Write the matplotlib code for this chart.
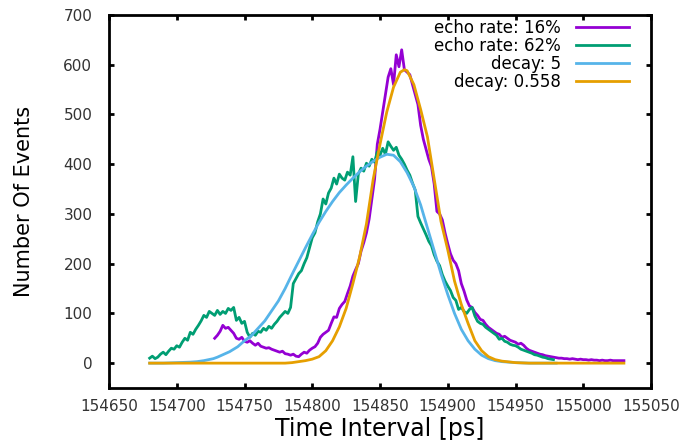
import numpy as np
import matplotlib
matplotlib.use("Agg")
import matplotlib.pyplot as plt

# histogram bins (ps), 2 ps wide
bin_width = 2
echo16_start = 154728
echo62_start = 154680

# echo rate: 16% (counts per bin)
echo16_counts = [
    50, 56, 64, 76, 70, 72, 66, 60, 50, 48,
    52, 44, 42, 45, 40, 36, 40, 34, 32, 30,
    31, 28, 26, 24, 22, 24, 19, 18, 16, 18,
    14, 13, 18, 22, 20, 26, 30, 33, 40, 52,
    58, 62, 66, 80, 93, 92, 110, 118, 124, 140,
    155, 175, 188, 200, 225, 242, 262, 290, 330, 370,
    440, 470, 505, 540, 575, 592, 560, 620, 596, 630,
    590, 585, 580, 560, 540, 520, 478, 450, 430, 410,
    395, 360, 305, 300, 288, 262, 240, 220, 207, 200,
    186, 160, 145, 127, 115, 112, 102, 96, 88, 86,
    78, 72, 68, 64, 60, 58, 52, 54, 50, 46,
    44, 42, 38, 40, 36, 30, 26, 24, 22, 20,
    18, 17, 15, 14, 13, 12, 11, 10, 10, 9,
    9, 8, 9, 8, 7, 8, 7, 7, 6, 7,
    6, 6, 5, 6, 5, 5, 6, 5, 5, 5,
    5, 5,
]

# echo rate: 62%
echo62_counts = [
    10, 14, 9, 12, 18, 22, 17, 24, 30, 28,
    35, 32, 42, 50, 46, 62, 58, 68, 76, 85,
    96, 92, 104, 100, 96, 106, 98, 104, 100, 110,
    106, 112, 86, 92, 80, 84, 62, 52, 60, 56,
    64, 62, 70, 66, 74, 70, 78, 84, 92, 98,
    104, 100, 112, 160, 170, 180, 186, 200, 212, 232,
    252, 262, 284, 300, 330, 320, 342, 352, 372, 360,
    380, 372, 368, 384, 378, 415, 325, 380, 392, 386,
    402, 396, 410, 404, 425, 418, 432, 420, 445, 436,
    428, 434, 418, 410, 400, 388, 378, 362, 348, 295,
    282, 270, 258, 245, 236, 218, 205, 196, 178, 165,
    155, 146, 132, 126, 108, 112, 104, 100, 108, 112,
    95, 84, 80, 78, 72, 68, 64, 60, 56, 48,
    50, 44, 42, 38, 36, 35, 32, 28, 26, 24,
    22, 20, 17, 16, 14, 12, 11, 9, 8, 7,
]

# model curves
decay5_t = [154680, 154690, 154700, 154710, 154715, 154720, 154727, 154730, 154739, 154745,
            154750, 154755, 154760, 154765, 154770, 154775, 154780, 154785, 154790, 154795,
            154800, 154805, 154810, 154815, 154820, 154825, 154830, 154835, 154840, 154845,
            154850, 154855, 154860, 154865, 154870, 154875, 154880, 154885, 154890, 154895,
            154900, 154905, 154910, 154915, 154920, 154925, 154930, 154935, 154940, 154950,
            154960, 154970, 154980]
decay5_n = [0, 0, 1, 2, 3, 5, 9, 12, 23, 33,
            45, 55, 70, 85, 105, 125, 150, 178, 205, 232,
            258, 283, 305, 325, 343, 358, 372, 385, 396, 406,
            414, 420, 418, 405, 383, 355, 318, 272, 226, 180,
            138, 100, 68, 45, 28, 16, 9, 5, 3, 1,
            0, 0, 0]

decay0558_t = [154680, 154700, 154720, 154740, 154760, 154780, 154785, 154790, 154795, 154800,
               154805, 154810, 154815, 154820, 154825, 154830, 154835, 154840, 154845, 154850,
               154855, 154860, 154865, 154868, 154870, 154875, 154880, 154885, 154890, 154895,
               154900, 154905, 154910, 154915, 154920, 154925, 154930, 154935, 154940, 154950,
               154960, 154980, 155000, 155030]
decay0558_n = [0, 0, 0, 0, 0, 0, 1, 3, 5, 8,
               13, 25, 45, 73, 110, 160, 214, 280, 370, 440,
               505, 555, 585, 590, 588, 560, 510, 455, 370, 285,
               228, 165, 118, 80, 45, 25, 13, 7, 4, 1,
               0, 0, 0, 0]

echo16_t = echo16_start + bin_width * np.arange(len(echo16_counts))
echo62_t = echo62_start + bin_width * np.arange(len(echo62_counts))

plt.rcParams['font.family'] = ['DejaVu Sans']
fig = plt.figure(figsize=(6.83, 4.40), dpi=100)
ax = fig.add_axes([109 / 683, 1 - 388 / 440, (651 - 109) / 683, (388 - 15) / 440])

ax.plot(echo16_t, echo16_counts, color='#9400d3', lw=2, label='echo rate: 16%')
ax.plot(echo62_t, echo62_counts, color='#009e73', lw=2, label='echo rate: 62%')
ax.plot(decay5_t, decay5_n, color='#56b4e9', lw=2, label='decay: 5')
ax.plot(decay0558_t, decay0558_n, color='#e69f00', lw=2, label='decay: 0.558')

ax.set_xlim(154650, 155050)
ax.set_ylim(-50, 700)
ax.set_xticks(np.arange(154650, 155051, 50))
ax.set_yticks(np.arange(0, 701, 100))

for s in ax.spines.values():
    s.set_linewidth(2)
ax.tick_params(direction='in', length=3.5, width=2, top=True, right=True,
               labelsize=11, labelcolor='#333333')
ax.tick_params(axis='x', pad=8)
ax.tick_params(axis='y', pad=12)

ax.set_xlabel("Time Interval [ps]", fontsize=17, labelpad=2)
ax.set_ylabel("Number Of Events", fontsize=15, labelpad=21)

ax.legend(loc='upper right', bbox_to_anchor=(629 / 683, 1 - 19 / 440),
          bbox_transform=fig.transFigure, frameon=False, markerfirst=False,
          fontsize=12, handlelength=3.2, handletextpad=0.9, labelspacing=0.0,
          borderpad=0, borderaxespad=0)

plt.savefig("out.png", dpi=100)
